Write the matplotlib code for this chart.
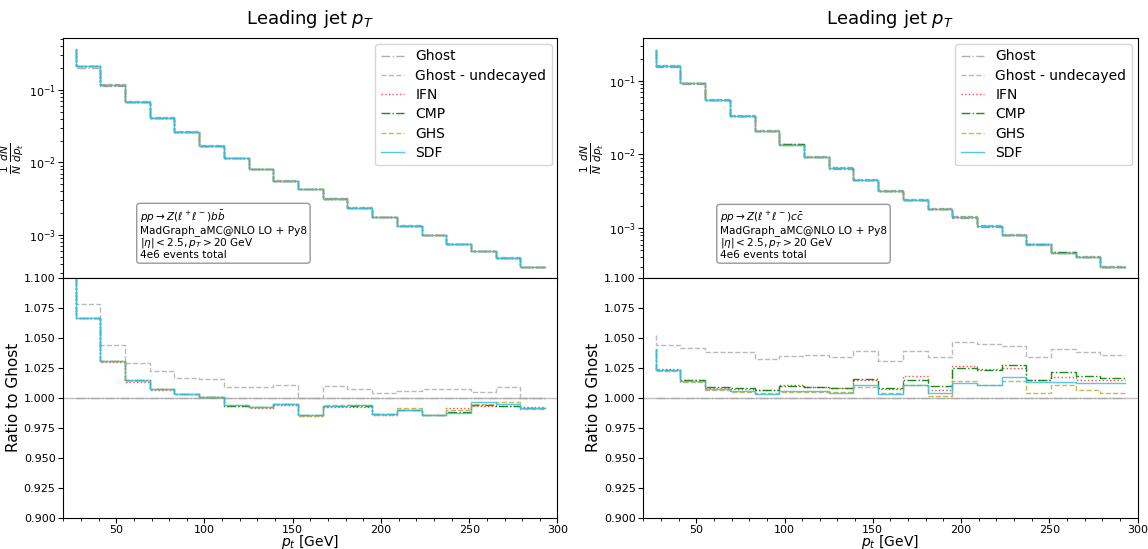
import numpy as np
from matplotlib import pyplot as plt
from matplotlib.ticker import AutoMinorLocator

# bin centres (GeV), 14 GeV bins between 20 and 300
pt = [27, 41, 55, 69, 83, 97, 111, 125, 139, 153, 167, 181, 195, 209, 223, 237, 251, 265, 279, 293]

algos = ["IFN", "CMP", "GHS", "SDF"]

# ---- b bbar sample ----
bb_ghost = [0.315, 0.201, 0.115, 0.0675, 0.0409, 0.0264, 0.01687, 0.01148, 0.00805, 0.0056,
            0.0043, 0.00318, 0.00238, 0.00178, 0.00134, 0.00100, 7.5e-4, 5.96e-4, 4.85e-4, 3.61e-4]
bb_undecayed = [1.16, 1.0785, 1.0437, 1.029, 1.022, 1.0165, 1.0156, 1.0089, 1.0089, 1.0108,
                0.9995, 1.0103, 1.0075, 1.0039, 1.0061, 1.0078, 1.0073, 1.0053, 1.0092, 1.0000]
bb_ifn = [1.15, 1.067, 1.030, 1.0135, 1.0068, 1.0032, 1.0005, 0.9930, 0.9915, 0.9942,
          0.9845, 0.9927, 0.9922, 0.9860, 0.9898, 0.9855, 0.9914, 0.9935, 0.9930, 0.9922]
bb_cmp = [1.15, 1.067, 1.031, 1.0145, 1.0072, 1.0033, 1.0010, 0.9935, 0.9922, 0.9945,
          0.9855, 0.9935, 0.9935, 0.9863, 0.9902, 0.9858, 0.9880, 0.9937, 0.9933, 0.9912]
bb_ghs = [1.15, 1.067, 1.031, 1.0143, 1.0070, 1.0034, 1.0010, 0.9938, 0.9924, 0.9950,
          0.9850, 0.9940, 0.9938, 0.9855, 0.9913, 0.9858, 0.9897, 0.9945, 0.9962, 0.9910]
bb_sdf = [1.15, 1.067, 1.031, 1.0145, 1.0073, 1.0034, 1.0008, 0.9937, 0.9925, 0.9947,
          0.9858, 0.9936, 0.9937, 0.9866, 0.9900, 0.9858, 0.9872, 0.9964, 0.9950, 0.9914]

# ---- c cbar sample ----
cc_ghost = [0.255, 0.156, 0.091, 0.0546, 0.0335, 0.0210, 0.01355, 0.00919, 0.00645, 0.00444,
            0.00315, 0.00239, 0.00182, 0.00138, 0.00105, 7.96e-4, 5.96e-4, 4.58e-4, 4.0e-4, 2.96e-4]
cc_undecayed = [1.0523, 1.0442, 1.0412, 1.0381, 1.0381, 1.0328, 1.0348, 1.0358, 1.0340, 1.0395,
                1.0306, 1.0389, 1.0342, 1.0467, 1.0448, 1.0431, 1.0342, 1.0408, 1.0383, 1.0356]
cc_ifn = [1.041, 1.0237, 1.0153, 1.0086, 1.0075, 1.0064, 1.0111, 1.0092, 1.0080, 1.0145,
          1.0072, 1.0181, 1.0069, 1.0270, 1.0242, 1.0250, 1.0147, 1.0175, 1.0147, 1.0147]
cc_cmp = [1.041, 1.0230, 1.0147, 1.0089, 1.0081, 1.0067, 1.0097, 1.0090, 1.0084, 1.0156,
          1.0083, 1.0147, 1.0100, 1.0250, 1.0231, 1.0272, 1.0153, 1.0212, 1.0181, 1.0167]
cc_ghs = [1.040, 1.0220, 1.0133, 1.0062, 1.0047, 1.0040, 1.0047, 1.0050, 1.0047, 1.0092,
          1.0044, 1.0110, 1.0014, 1.0139, 1.0106, 1.0142, 1.0042, 1.0106, 1.0064, 1.0042]
cc_sdf = [1.041, 1.0230, 1.0140, 1.0075, 1.0055, 1.0036, 1.0058, 1.0055, 1.0042, 1.0111,
          1.0036, 1.0111, 1.0042, 1.0125, 1.0106, 1.0175, 1.0133, 1.0133, 1.0125, 1.0125]

samples = [
    (r"$pp \rightarrow Z(\ell^+\ell^-)b\bar{b}$", bb_ghost, bb_undecayed, [bb_ifn, bb_cmp, bb_ghs, bb_sdf]),
    (r"$pp \rightarrow Z(\ell^+\ell^-)c\bar{c}$", cc_ghost, cc_undecayed, [cc_ifn, cc_cmp, cc_ghs, cc_sdf]),
]

styles = {
    "Ghost": dict(color="darkgrey", ls="-.", alpha=0.9),
    "Ghost - undecayed": dict(color="darkgrey", ls="--", alpha=0.8),
    "IFN": dict(color="red", ls=":", alpha=0.7),
    "CMP": dict(color="green", ls="-.", alpha=0.9),
    "GHS": dict(color="#c8b040", ls="--", alpha=0.9),
    "SDF": dict(color="#35bdea", ls="-", alpha=0.85),
}

fig = plt.figure(figsize=(11.48, 5.49), dpi=100)
lefts = [0.0551, 0.5604]
w, h = 0.4305, 0.4366

for i, (proc, ghost, undec, ratios) in enumerate(samples):
    ax = fig.add_axes([lefts[i], 0.4936, w, h])
    rax = fig.add_axes([lefts[i], 0.057, w, h], sharex=ax)
    ghost = np.array(ghost)

    ax.step(pt, ghost, lw=1, label="Ghost", **styles["Ghost"])
    ax.step(pt, ghost * np.array(undec), lw=1, label="Ghost - undecayed", **styles["Ghost - undecayed"])
    for name, r in zip(algos, ratios):
        ax.step(pt, ghost * np.array(r), lw=1, label=name, **styles[name])

    rax.axhline(1.0, color="grey", lw=1, alpha=0.5)
    rax.step(pt, np.ones(len(pt)), lw=1, **styles["Ghost"])
    rax.step(pt, undec, lw=1, **styles["Ghost - undecayed"])
    for name, r in zip(algos, ratios):
        rax.step(pt, r, lw=1, **styles[name])

    ax.set_yscale("log")
    ax.set_title(r"Leading jet $p_T$", fontsize=13, pad=10)
    ax.set_ylabel(r"$\frac{1}{N}\,\frac{dN}{dp_t}$", fontsize=11, labelpad=2)
    ax.legend(loc="upper right", fontsize=10, labelspacing=0.38, handlelength=1.7,
              borderaxespad=0.4)
    ax.tick_params(labelbottom=False, labelsize=8, pad=2)
    ax.text(0.155, 0.075, proc + "\nMadGraph_aMC@NLO LO + Py8\n"
            + r"$|\eta| < 2.5, p_T > 20$ GeV" + "\n4e6 events total",
            transform=ax.transAxes, fontsize=7.6, va="bottom", ha="left", linespacing=1.02,
            bbox=dict(boxstyle="round", fc="white", ec="grey", alpha=0.8))

    rax.set_xlim(20, 300)
    rax.set_ylim(0.9, 1.1)
    rax.set_yticks(np.arange(0.9, 1.1001, 0.025))
    rax.xaxis.set_minor_locator(AutoMinorLocator())
    rax.tick_params(labelsize=8, pad=2)
    rax.tick_params(axis="x", pad=1.5)
    rax.set_xlabel(r"$p_t$ [GeV]", fontsize=10, labelpad=-1.5)
    rax.set_ylabel("Ratio to Ghost", fontsize=11, labelpad=2)

fig.savefig("out.png", dpi=100)
